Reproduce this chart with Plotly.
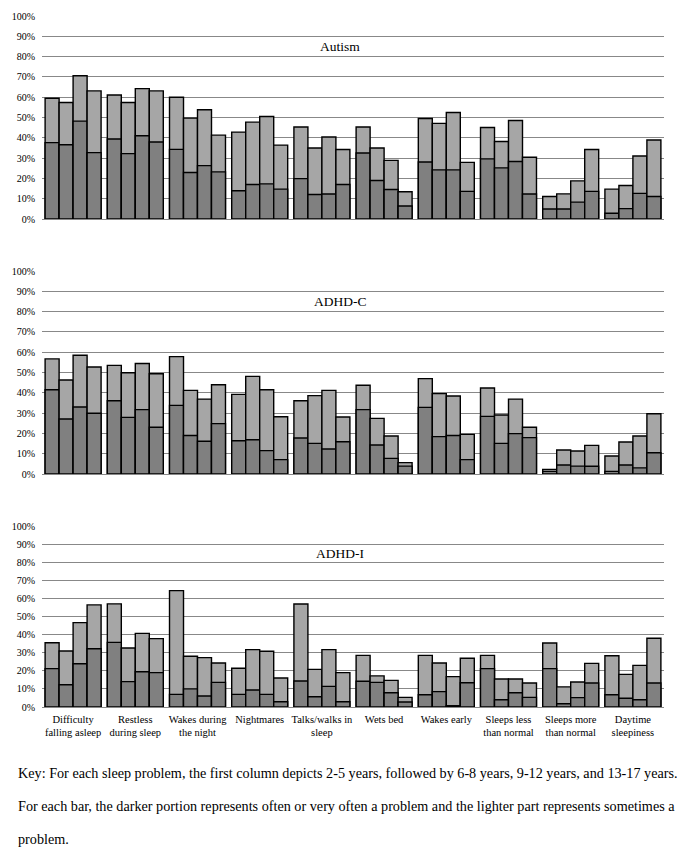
import plotly.graph_objects as go
from plotly.subplots import make_subplots

# Data (percent of children)
PROBLEMS = [
    "Difficulty<br>falling asleep", "Restless<br>during sleep", "Wakes during<br>the night",
    "Nightmares", "Talks/walks in<br>sleep", "Wets bed", "Wakes early",
    "Sleeps less<br>than normal", "Sleeps more<br>than normal", "Daytime<br>sleepiness",
]
AGE_GROUPS = ["2-5 years", "6-8 years", "9-12 years", "13-17 years"]
PANELS = ["Autism", "ADHD-C", "ADHD-I"]

# total = sometimes + often ; often = darker part
AUTISM_TOTAL = [
    [59.5, 61.1, 60.0, 42.8, 45.3, 45.3, 49.5, 45.1, 11.1, 14.7],
    [57.4, 57.4, 49.7, 47.7, 35.0, 35.0, 47.1, 38.2, 12.4, 16.5],
    [70.6, 64.2, 53.8, 50.5, 40.4, 28.9, 52.5, 48.5, 18.8, 31.0],
    [63.1, 63.1, 41.3, 36.4, 34.2, 13.4, 27.9, 30.4, 34.2, 38.9],
]
AUTISM_OFTEN = [
    [37.6, 39.4, 34.3, 13.9, 19.9, 32.5, 28.1, 29.6, 4.9, 2.8],
    [36.6, 32.2, 22.9, 17.0, 12.1, 19.0, 24.2, 25.2, 4.9, 5.1],
    [48.2, 41.0, 26.3, 17.3, 12.3, 14.5, 24.2, 28.3, 8.3, 12.6],
    [32.7, 37.9, 23.2, 14.7, 17.0, 6.4, 13.6, 12.3, 13.6, 11.1],
]
ADHD_C_TOTAL = [
    [56.7, 53.5, 57.8, 39.2, 36.1, 43.7, 47.0, 42.4, 2.3, 8.9],
    [46.3, 49.9, 41.2, 48.1, 38.6, 27.4, 39.6, 29.1, 11.8, 15.8],
    [58.5, 54.4, 36.9, 41.5, 41.2, 18.7, 38.4, 36.9, 11.3, 18.7],
    [52.7, 49.4, 44.0, 28.2, 28.1, 5.6, 19.5, 23.0, 14.1, 29.7],
]
ADHD_C_OFTEN = [
    [41.5, 36.1, 33.8, 16.4, 17.7, 31.7, 32.8, 28.4, 1.3, 1.3],
    [27.1, 27.9, 19.0, 16.9, 15.1, 14.3, 18.4, 15.1, 4.4, 4.4],
    [33.0, 31.7, 16.1, 11.5, 12.3, 7.7, 19.0, 19.9, 3.9, 3.0],
    [29.9, 23.0, 24.8, 7.1, 15.9, 3.9, 7.1, 17.9, 3.8, 10.5],
]
ADHD_I_TOTAL = [
    [35.5, 57.0, 64.3, 21.4, 56.9, 28.5, 28.5, 28.5, 35.4, 28.3],
    [30.9, 32.6, 28.0, 31.7, 20.8, 17.2, 24.3, 15.5, 11.1, 18.0],
    [46.6, 40.7, 27.3, 30.8, 31.7, 14.7, 16.8, 15.5, 13.8, 23.0],
    [56.4, 37.8, 24.3, 16.0, 19.0, 5.3, 26.9, 13.3, 24.1, 38.0],
]
ADHD_I_OFTEN = [
    [21.2, 35.7, 7.0, 7.0, 14.4, 14.2, 6.8, 21.2, 21.2, 6.8],
    [12.3, 14.0, 10.0, 9.4, 5.7, 13.6, 8.5, 4.0, 1.8, 4.8],
    [23.9, 19.5, 6.1, 7.0, 11.4, 7.9, 0.7, 7.9, 5.2, 4.0],
    [32.2, 19.0, 13.6, 2.9, 2.9, 2.8, 13.4, 5.3, 13.3, 13.3],
]

KEY_LINES = [
    "Key: For each sleep problem, the first column depicts 2-5 years, followed by 6-8 years, 9-12 years, and 13-17 years.",
    "For each bar, the darker portion represents often or very often a problem and the lighter part represents sometimes a",
    "problem.",
]

# the page body adds an 8px margin, so the figure is drawn 8px smaller
OFF = 8
W, H = 685 - OFF, 850 - OFF
FONT = "Liberation Serif, Times New Roman, serif"
DARK = "rgb(128, 128, 128)"
LIGHT = "rgb(166, 166, 166)"
GRID = "rgb(136, 136, 136)"

# screen pixel boxes of the three plot areas (top, bottom)
PANEL_PX = [(16, 219), (271, 474), (526, 707)]
X_PX = (42, 664)
KEY_Y_PX = [773, 806, 839]


def px_x(px):
    return (px - OFF) / W


def px_y(py):
    return 1 - (py - OFF) / H


panel_data = [
    (AUTISM_TOTAL, AUTISM_OFTEN),
    (ADHD_C_TOTAL, ADHD_C_OFTEN),
    (ADHD_I_TOTAL, ADHD_I_OFTEN),
]

fig = make_subplots(rows=3, cols=1)

for r, (totals, oftens) in enumerate(panel_data, start=1):
    for i, age in enumerate(AGE_GROUPS):
        fig.add_trace(go.Bar(x=PROBLEMS, y=totals[i], name=f"{age} sometimes",
                             offsetgroup=str(i), marker_color=LIGHT,
                             marker_line=dict(color="black", width=1.4),
                             showlegend=False), row=r, col=1)
        fig.add_trace(go.Bar(x=PROBLEMS, y=oftens[i], name=f"{age} often",
                             offsetgroup=str(i), marker_color=DARK,
                             marker_line=dict(color="black", width=1.4),
                             showlegend=False), row=r, col=1)

for r, (top, bottom) in enumerate(PANEL_PX, start=1):
    fig.update_yaxes(domain=[px_y(bottom), px_y(top)], range=[0, 100], dtick=10,
                     ticksuffix="%", showgrid=True, gridcolor=GRID, gridwidth=1.3,
                     zeroline=True, zerolinecolor=GRID, zerolinewidth=1.3,
                     showline=False, ticks="", ticklabelstandoff=6,
                     tickfont=dict(family=FONT, size=10, color="black"),
                     automargin=False, fixedrange=True, row=r, col=1)
    fig.update_xaxes(domain=[px_x(X_PX[0]), px_x(X_PX[1])], showgrid=False, showline=False,
                     ticks="", showticklabels=(r == 3), automargin=False,
                     ticklabelstandoff=4,
                     tickfont=dict(family=FONT, size=10.5, color="black"),
                     fixedrange=True, row=r, col=1)
    fig.add_annotation(text=PANELS[r - 1], xref="paper", x=px_x(340),
                       yref=f"y{r if r > 1 else ''}", y=85, showarrow=False,
                       font=dict(family=FONT, size=13.5, color="black"))

for line, ypx in zip(KEY_LINES, KEY_Y_PX):
    fig.add_annotation(text=line, xref="paper", x=px_x(16), xanchor="left",
                       yref="paper", y=px_y(ypx), yanchor="middle", showarrow=False,
                       font=dict(family=FONT, size=14.2, color="black"))

fig.update_layout(
    width=W, height=H,
    margin=dict(l=0, r=0, t=0, b=0),
    barmode="group", bargap=0.1, bargroupgap=0,
    plot_bgcolor="white", paper_bgcolor="white",
    font=dict(family=FONT, color="black"),
)

fig.write_html("out.html")
